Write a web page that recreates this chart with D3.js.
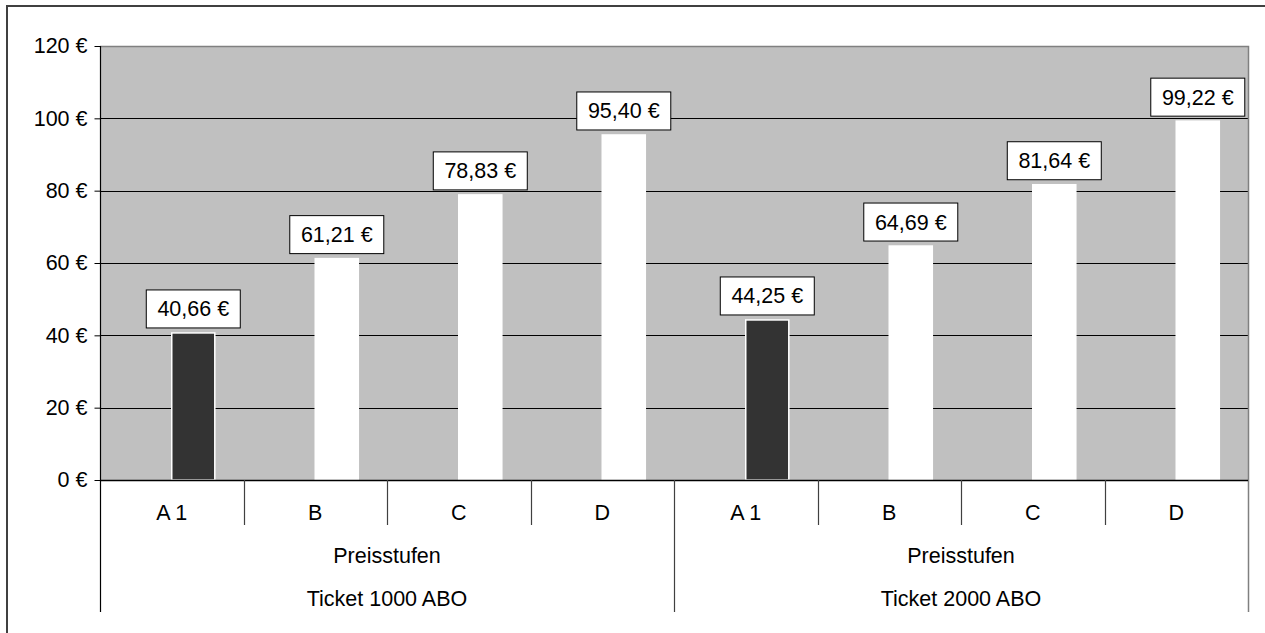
<!DOCTYPE html>
<html>
<head>
<meta charset="utf-8">
<script src="https://cdn.jsdelivr.net/npm/d3@7"></script>
<style>
  body { margin: 0; background: #fff; }
  svg text { font-family: "Liberation Sans", Arial, sans-serif; fill: #000; }
</style>
</head>
<body>
<div id="chart"></div>
<script>
// chart data
var groups = ["Ticket 1000 ABO", "Ticket 2000 ABO"];
var groupSub = "Preisstufen";
var levels = ["A 1", "B", "C", "D"];
var values1000 = [40.66, 61.21, 78.83, 95.40];
var values2000 = [44.25, 64.69, 81.64, 99.22];
var yTicks = [0, 20, 40, 60, 80, 100, 120];

var width = 1265;
var height = 633;
// plot edges (names avoid window.top)
var pLeft = 100, pRight = 1248, pTop = 46, pBottom = 480;
var fontSize = 21.5;

var svg = d3.select("#chart").append("svg")
    .attr("width", width)
    .attr("height", height);

// outer frame (right and bottom edges fall outside the picture)
svg.append("rect")
    .attr("x", 7).attr("y", 6)
    .attr("width", 1280).attr("height", 660)
    .attr("fill", "#fff").attr("stroke", "#404040").attr("stroke-width", 2);

var rows = [];
groups.forEach(function (g, gi) {
    var vals = gi == 0 ? values1000 : values2000;
    levels.forEach(function (l, li) {
        rows.push({ key: gi + "-" + li, group: g, gi: gi, level: l, li: li, value: vals[li] });
    });
});

var xScale = d3.scaleBand()
    .domain(rows.map(d => d.key))
    .range([pLeft, pRight]);

// two slots per category, bars sit in the second one
var slot = d3.scaleBand()
    .domain(["leer", "wert"])
    .range([0, xScale.bandwidth()])
    .paddingInner(0)
    .paddingOuter(2 / 3);

var yScale = d3.scaleLinear()
    .domain([0, 120])
    .range([pBottom, pTop]);

var fmt = d3.formatLocale({ decimal: ",", thousands: ".", grouping: [3], currency: ["", " €"] });
var euro2 = v => fmt.format(",.2f")(v) + " €";

// plot background
svg.append("rect")
    .attr("x", pLeft).attr("y", pTop)
    .attr("width", pRight - pLeft).attr("height", pBottom - pTop)
    .attr("fill", "#c0c0c0");

// grid lines
svg.append("g").selectAll("line")
    .data(yTicks.filter(t => t > 0 && t < 120))
    .enter().append("line")
    .attr("x1", pLeft).attr("x2", pRight)
    .attr("y1", d => Math.round(yScale(d)) + 0.5)
    .attr("y2", d => Math.round(yScale(d)) + 0.5)
    .attr("stroke", "#000").attr("stroke-width", 1);

// top and right border of plot
svg.append("path")
    .attr("d", "M" + pLeft + "," + (pTop + 0.5) + "H" + (pRight + 0.5) + "V" + 612)
    .attr("fill", "none").attr("stroke", "#808080").attr("stroke-width", 1.5);

// y axis
var yAxis = d3.axisLeft(yScale)
    .tickValues(yTicks)
    .tickSize(6)
    .tickPadding(7)
    .tickFormat(d => d + " €");

var yg = svg.append("g")
    .attr("transform", "translate(" + (pLeft + 0.5) + ",0)")
    .call(yAxis);
yg.select(".domain").remove();
yg.selectAll(".tick line").attr("stroke", "#000");
yg.selectAll(".tick text")
    .style("font-size", fontSize + "px")
    .attr("font-family", "Liberation Sans, Arial, sans-serif")
    .attr("fill", "#000");

svg.append("line")
    .attr("x1", pLeft + 0.5).attr("x2", pLeft + 0.5)
    .attr("y1", pTop).attr("y2", 612)
    .attr("stroke", "#000").attr("stroke-width", 1.2);

// bars
svg.append("g").selectAll("rect")
    .data(rows)
    .enter().append("rect")
    .attr("x", d => xScale(d.key) + slot("wert"))
    .attr("width", slot.bandwidth())
    .attr("y", d => yScale(d.value))
    .attr("height", d => yScale(0) - yScale(d.value))
    .attr("fill", d => d.li == 0 ? "#333333" : "#ffffff")
    .attr("stroke", "#ffffff")
    .attr("stroke-width", 1.5);

// value labels
var lab = svg.append("g").selectAll("g")
    .data(rows)
    .enter().append("g")
    .attr("transform", d => "translate(" + (xScale(d.key) + slot("wert") + slot.bandwidth() / 2) + "," + (yScale(d.value) - 5) + ")");

lab.append("rect")
    .attr("x", -47).attr("y", -38)
    .attr("width", 94).attr("height", 38)
    .attr("fill", "#fff").attr("stroke", "#000").attr("stroke-width", 1);

lab.append("text")
    .attr("x", 0).attr("y", -11.5)
    .attr("text-anchor", "middle")
    .style("font-size", fontSize + "px")
    .text(d => euro2(d.value));

// category axis line
svg.append("line")
    .attr("x1", pLeft).attr("x2", pRight)
    .attr("y1", pBottom + 0.5).attr("y2", pBottom + 0.5)
    .attr("stroke", "#000").attr("stroke-width", 1.5);

// category separators
svg.append("g").selectAll("line")
    .data(rows.filter(d => d.li > 0))
    .enter().append("line")
    .attr("x1", d => Math.round(xScale(d.key)) + 0.5)
    .attr("x2", d => Math.round(xScale(d.key)) + 0.5)
    .attr("y1", pBottom).attr("y2", 525)
    .attr("stroke", "#404040").attr("stroke-width", 1.2);

// group separators
svg.append("g").selectAll("line")
    .data(rows.filter(d => d.li == 0 && d.gi > 0))
    .enter().append("line")
    .attr("x1", d => Math.round(xScale(d.key)) + 0.5)
    .attr("x2", d => Math.round(xScale(d.key)) + 0.5)
    .attr("y1", pBottom).attr("y2", 612)
    .attr("stroke", "#404040").attr("stroke-width", 1.2);

// category labels
svg.append("g").selectAll("text")
    .data(rows)
    .enter().append("text")
    .attr("x", d => xScale(d.key) + xScale.bandwidth() / 2)
    .attr("y", 520)
    .attr("text-anchor", "middle")
    .style("font-size", fontSize + "px")
    .text(d => d.level);

// group labels
var groupCenter = gi => {
    var first = xScale(gi + "-0");
    var last = xScale(gi + "-" + (levels.length - 1)) + xScale.bandwidth();
    return (first + last) / 2;
};

svg.append("g").selectAll("text")
    .data(groups)
    .enter().append("text")
    .attr("x", (d, i) => groupCenter(i))
    .attr("y", 563)
    .attr("text-anchor", "middle")
    .style("font-size", fontSize + "px")
    .text(groupSub);

svg.append("g").selectAll("text")
    .data(groups)
    .enter().append("text")
    .attr("x", (d, i) => groupCenter(i))
    .attr("y", 606)
    .attr("text-anchor", "middle")
    .style("font-size", fontSize + "px")
    .text(d => d);
</script>
</body>
</html>
